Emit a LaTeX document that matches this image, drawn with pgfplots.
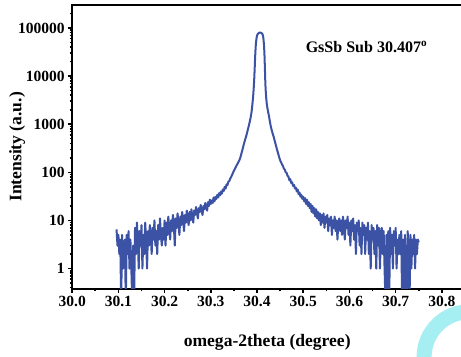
\documentclass[border=0pt]{standalone}
\usepackage{pgfplots}
\pgfplotsset{compat=1.18}
\usepackage{fontspec}
\setmainfont{Liberation Serif}
\definecolor{curve}{RGB}{60,82,165}
\definecolor{wm}{RGB}{165,238,242}
\pgfplotstableread{
x y
30.096 6.5
30.098 3
30.100 5
30.102 2
30.104 4
30.106 0.2
30.108 5
30.110 1
30.112 3
30.114 4
30.116 0.2
30.118 5
30.120 2
30.122 6
30.124 1
30.126 4
30.128 1
30.130 0.2
30.132 3
30.134 0.2
30.136 7
30.138 2
30.140 9
30.142 4
30.144 1
30.146 6
30.148 3
30.150 8
30.152 1
30.154 5
30.156 2
30.158 9
30.160 4
30.162 1
30.164 6
30.166 3
30.168 8
30.170 5
30.172 2
30.174 7
30.176 4
30.178 10
30.180 3
30.182 6
30.184 2
30.186 8
30.188 4
30.190 11
30.192 5
30.194 3
30.196 7
30.198 4
30.200 10
30.202 3
30.204 9
30.206 5
30.208 12
30.210 7
30.212 4
30.214 10
30.216 6
30.218 13
30.220 8
30.222 3
30.224 11
30.226 7
30.228 14
30.230 9
30.232 5
30.234 12
30.236 8
30.238 15
30.240 10
30.242 6
30.244 13
30.246 9
30.248 16
30.250 11
30.252 8
30.254 15
30.256 10
30.258 17
30.260 12
30.262 9
30.264 16
30.266 13
30.268 19
30.270 14
30.272 11
30.274 18
30.276 15
30.278 21
30.280 16
30.282 13
30.284 20
30.286 17
30.288 23
30.290 19
30.292 16
30.294 24
30.296 20
30.298 27
30.300 22
30.302 26
30.304 23
30.306 30
30.308 25
30.310 31
30.312 28
30.314 34
30.316 30
30.318 37
30.320 33
30.322 40
30.324 36
30.326 44
30.328 41
30.330 50
30.332 46
30.334 56
30.336 54
30.338 64
30.340 66
30.342 74
30.344 80
30.346 88
30.348 98
30.350 108
30.352 118
30.354 128
30.356 140
30.358 152
30.360 165
30.362 180
30.364 205
30.366 240
30.368 285
30.370 340
30.372 400
30.374 470
30.376 540
30.378 640
30.380 760
30.382 910
30.384 1100
30.386 1350
30.388 1750
30.389 2100
30.390 2600
30.391 3300
30.392 4300
30.393 6000
30.394 9000
30.395 15000
30.396 26000
30.397 40000
30.398 52000
30.399 62000
30.400 70000
30.402 76000
30.404 79000
30.406 80000
30.408 80000
30.410 78000
30.412 74000
30.413 68000
30.414 58000
30.415 45000
30.416 30000
30.417 15000
30.418 7000
30.419 4600
30.420 3400
30.421 2700
30.422 2300
30.424 1800
30.426 1450
30.428 1100
30.430 880
30.432 740
30.434 630
30.436 550
30.438 460
30.440 390
30.442 330
30.444 280
30.446 240
30.448 205
30.450 178
30.452 162
30.454 146
30.456 136
30.458 120
30.460 114
30.462 100
30.464 98
30.466 84
30.468 82
30.470 68
30.472 72
30.474 60
30.476 62
30.478 52
30.480 55
30.482 46
30.484 48
30.486 40
30.488 44
30.490 35
30.492 38
30.494 31
30.496 34
30.498 28
30.500 31
30.502 25
30.504 29
30.506 22
30.508 27
30.510 20
30.512 24
30.514 18
30.516 22
30.518 15
30.520 20
30.522 14
30.524 18
30.526 12
30.528 17
30.530 11
30.532 15
30.534 10
30.536 14
30.538 8
30.540 13
30.542 9
30.544 14
30.546 7
30.548 12
30.550 9
30.552 13
30.554 6
30.556 11
30.558 8
30.560 12
30.562 5
30.564 10
30.566 7
30.568 12
30.570 6
30.572 10
30.574 4
30.576 9
30.578 11
30.580 6
30.582 10
30.584 5
30.586 12
30.588 8
30.590 4
30.592 10
30.594 7
30.596 12
30.598 5
30.600 9
30.602 3
30.604 10
30.606 6
30.608 11
30.610 4
30.612 8
30.614 2
30.616 9
30.618 6
30.620 10
30.622 3
30.624 7
30.626 2
30.628 9
30.630 5
30.632 8
30.634 2
30.636 7
30.638 4
30.640 9
30.642 2
30.644 6
30.646 1
30.648 8
30.650 4
30.652 7
30.654 2
30.656 6
30.658 1
30.660 8
30.662 3
30.664 7
30.666 1
30.668 5
30.670 7
30.672 2
30.674 6
30.676 1
30.678 0.2
30.680 5
30.682 0.2
30.684 6
30.686 0.2
30.688 7
30.690 2
30.692 5
30.694 1
30.696 6
30.698 3
30.700 7
30.702 1
30.704 4
30.706 2
30.708 5
30.710 2
30.712 6
30.714 0.2
30.716 4
30.718 0.2
30.720 5
30.722 1
30.724 0.2
30.726 6
30.728 2
30.730 0.2
30.732 5
30.734 1
30.736 4
30.738 2
30.740 5
30.742 1
30.744 4
30.746 2
30.748 4
30.750 3.5
}\datatable
\begin{document}
\begin{tikzpicture}
\draw[wm, line width=15pt] (396pt,-68pt) circle (45pt);
\begin{axis}[name=ax, at={(0pt,0pt)}, anchor=south west,
  scale only axis, width=389pt, height=283pt,
  ymode=log, xmin=30.0, xmax=30.844, ymin=0.38, ymax=3e5,
  xtick={30.0,30.1,30.2,30.3,30.4,30.5,30.6,30.7,30.8},
  xticklabels={30.0,30.1,30.2,30.3,30.4,30.5,30.6,30.7,30.8},
  minor xtick={30.05,30.15,30.25,30.35,30.45,30.55,30.65,30.75},
  ytick={1,10,100,1000,10000,100000},
  yticklabels={1,10,100,1000,10000,100000},
  minor ytick={0.4,0.5,0.6,0.7,0.8,0.9,2,3,4,5,6,7,8,9,20,30,40,50,60,70,80,90,200,300,400,500,600,700,800,900,2000,3000,4000,5000,6000,7000,8000,9000,20000,30000,40000,50000,60000,70000,80000,90000,200000},
  xtick pos=bottom, ytick pos=left,
  tick align=outside, major tick length=4pt, minor tick length=2.5pt,
  every tick/.style={black, line width=1.6pt},
  axis line style={line width=2pt},
  ticklabel style={font=\bfseries\fontsize{15.5}{15.5}\selectfont},
  xlabel={omega-2theta (degree)}, ylabel={Intensity (a.u.)},
  label style={font=\bfseries\fontsize{17.5}{17.5}\selectfont},
  xlabel style={yshift=-21pt}, ylabel style={yshift=-14pt},
  axis background/.style={fill=white},
]
\addplot[curve, line width=2pt, line join=round] table[x=x,y=y] {\datatable};
\node[font=\bfseries\fontsize{16}{16}\selectfont] at (axis cs:30.637,40000) {GsSb Sub 30.407\textsuperscript{o}};
\end{axis}
\pgfresetboundingbox
\path[use as bounding box] ([xshift=-72pt,yshift=-68pt]ax.south west) rectangle ([xshift=-1.2pt,yshift=5pt]ax.north east);
\end{tikzpicture}
\end{document}
